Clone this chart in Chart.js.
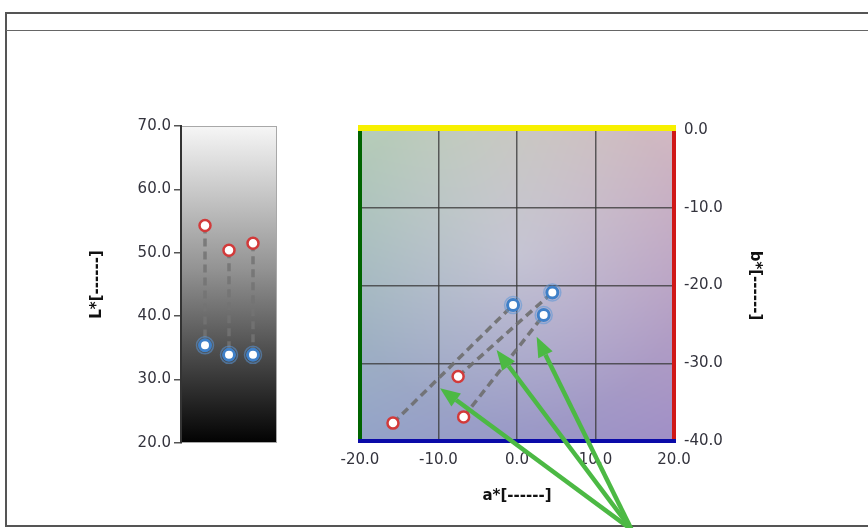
<!DOCTYPE html>
<html>
<head>
<meta charset="utf-8">
<script src="https://cdn.jsdelivr.net/npm/chart.js@4"></script>
<style>
  body { margin: 0; background: #fff; width: 868px; height: 528px; overflow: hidden; position: relative; }
  .frame { position: absolute; left: 5px; top: 12px; width: 880px; height: 511px; border: 2px solid #555; border-right: none; }
  .bar { position: absolute; left: 6px; top: 30px; width: 870px; height: 1px; background: #666; }
  canvas { position: absolute; left: 0; top: 0; }
</style>
</head>
<body>
<div class="frame"></div>
<div class="bar"></div>
<canvas id="chartL" width="868" height="528"></canvas>
<canvas id="chartAB" width="868" height="528"></canvas>
<script>
// L* chart: three samples, before (red) and after (blue)
const samplePos = [1, 2, 3];
const lBefore = [54.3, 50.4, 51.5];
const lAfter = [35.4, 33.9, 33.9];
const lTicks = [20, 30, 40, 50, 60, 70];

// a*b* chart
const aBefore = [-15.8, -7.5, -6.8];
const bBefore = [-37.7, -31.7, -36.9];
const aAfter = [-0.5, 4.5, 3.4];
const bAfter = [-22.5, -20.9, -23.8];
const aTicks = [-20, -10, 0, 10, 20];
const bTicks = [0, -10, -20, -30, -40];

// green annotation arrows (a*, b*), tips and common tail
const arrowTipA = [-9.8, -2.6, 2.5];
const arrowTipB = [-33.2, -28.3, -26.6];
const arrowTail = [14.6, -51.4];

const tickFont = { family: "DejaVu Sans", size: 15 };
const titleFont = { family: "DejaVu Sans", size: 15, weight: "bold" };
const tickColor = "#33333d";

const RED = "#d23a3a";
const BLUE = "#3f80c8";

function pts(xs, ys) {
  return xs.map((x, i) => ({ x: x, y: ys[i] }));
}

function pairLines(xs1, ys1, xs2, ys2, color) {
  return xs1.map((x, i) => ({
    type: "scatter",
    data: [{ x: x, y: ys1[i] }, { x: xs2[i], y: ys2[i] }],
    showLine: true,
    borderColor: color,
    borderWidth: 3.5,
    borderDash: [8, 5],
    pointRadius: 0,
    order: 10,
  }));
}

function markerSets(xs1, ys1, xs2, ys2) {
  return [
    { data: pts(xs1, ys1), pointRadius: 5.5, pointBorderWidth: 2.5, order: 1,
      pointBackgroundColor: "#fff", pointBorderColor: RED },
    { data: pts(xs2, ys2), pointRadius: 8.5, pointBorderWidth: 1.5, order: 2,
      pointBackgroundColor: "rgba(0,0,0,0)", pointBorderColor: "rgba(90,150,215,0.55)" },
    { data: pts(xs2, ys2), pointRadius: 5.5, pointBorderWidth: 3, order: 1,
      pointBackgroundColor: "#fff", pointBorderColor: BLUE },
  ];
}

// ---------- L* chart ----------
const lightPlugin = {
  id: "lightBg",
  beforeDraw(chart) {
    const { ctx, chartArea: a } = chart;
    const g = ctx.createLinearGradient(0, a.top, 0, a.bottom);
    g.addColorStop(0, "#f6f6f6");
    g.addColorStop(0.45, "#939393");
    g.addColorStop(1, "#020202");
    ctx.save();
    ctx.fillStyle = g;
    ctx.fillRect(a.left, a.top, a.right - a.left, a.bottom - a.top);
    ctx.strokeStyle = "#a8a8a8";
    ctx.lineWidth = 1;
    ctx.strokeRect(a.left + 0.5, a.top + 0.5, a.right - a.left - 1, a.bottom - a.top - 1);
    ctx.restore();
  },
};

new Chart(document.getElementById("chartL"), {
  type: "scatter",
  data: {
    datasets: [
      ...pairLines(samplePos, lBefore, samplePos, lAfter, "rgba(115,115,115,0.85)"),
      ...markerSets(samplePos, lBefore, samplePos, lAfter),
    ],
  },
  options: {
    responsive: false,
    animation: false,
    events: [],
    layout: { padding: { left: 85, right: 591, top: 126, bottom: 85 } },
    plugins: { legend: { display: false }, tooltip: { enabled: false } },
    scales: {
      x: { type: "linear", min: 0, max: 4, display: false },
      y: {
        type: "linear", position: "left", min: 20, max: 70,
        afterFit: (s) => { s.width = 96; },
        afterBuildTicks: (s) => { s.ticks = lTicks.map((v) => ({ value: v })); },
        ticks: { font: tickFont, color: tickColor, padding: 3, callback: (v) => v.toFixed(1) },
        grid: { drawOnChartArea: false, tickLength: 7, color: "#555", lineWidth: 1.5 },
        border: { color: "#333", width: 2 },
        title: { display: true, text: "L*[------]", font: titleFont, color: "#111", padding: 3 },
      },
    },
  },
  plugins: [lightPlugin],
});

// ---------- a*b* chart ----------
function corner(c) {
  return [parseInt(c.slice(1, 3), 16), parseInt(c.slice(3, 5), 16), parseInt(c.slice(5, 7), 16)];
}
const cTL = corner("#b5cdb8"), cTR = corner("#d2b8c2");
const cBL = corner("#93a3c8"), cBR = corner("#a08fc6");

const abPlugin = {
  id: "abBg",
  beforeDraw(chart) {
    const { ctx, chartArea: a } = chart;
    const w = Math.round(a.right - a.left), h = Math.round(a.bottom - a.top);
    const off = document.createElement("canvas");
    off.width = w; off.height = h;
    const octx = off.getContext("2d");
    const img = octx.createImageData(w, h);
    for (let j = 0; j < h; j++) {
      const v = j / (h - 1);
      for (let i = 0; i < w; i++) {
        const u = i / (w - 1);
        const k = (j * w + i) * 4;
        for (let c = 0; c < 3; c++) {
          const top = cTL[c] * (1 - u) + cTR[c] * u;
          const bot = cBL[c] * (1 - u) + cBR[c] * u;
          let val = top * (1 - v) + bot * v;
          // lighter in the centre
          const d = Math.hypot(u - 0.5, v - 0.4);
          val += Math.max(0, 18 * (1 - d * 1.8));
          img.data[k + c] = Math.min(255, val);
        }
        img.data[k + 3] = 255;
      }
    }
    octx.putImageData(img, 0, 0);
    ctx.drawImage(off, a.left, a.top);
  },
  beforeDatasetsDraw(chart) {
    const { ctx, chartArea: a } = chart;
    ctx.save();
    ctx.lineCap = "butt";
    const edge = (color, w, x1, y1, x2, y2) => {
      ctx.strokeStyle = color; ctx.lineWidth = w;
      ctx.beginPath(); ctx.moveTo(x1, y1); ctx.lineTo(x2, y2); ctx.stroke();
    };
    edge("#006400", 4, a.left, a.top, a.left, a.bottom);
    edge("#d01818", 4, a.right, a.top, a.right, a.bottom);
    edge("#f7f000", 6, a.left - 2, a.top - 2, a.right + 2, a.top - 2);
    edge("#0a0aa8", 4, a.left - 2, a.bottom, a.right + 2, a.bottom);
    ctx.restore();
  },
  afterDraw(chart) {
    const { ctx } = chart;
    const sx = chart.scales.x, sy = chart.scales.y;
    const tx = sx.getPixelForValue(arrowTail[0]);
    const ty = sy.getPixelForValue(arrowTail[1]);
    ctx.save();
    ctx.strokeStyle = "#4cb944";
    ctx.fillStyle = "#4cb944";
    ctx.lineWidth = 4.5;
    arrowTipA.forEach((av, i) => {
      const hx = sx.getPixelForValue(av);
      const hy = sy.getPixelForValue(arrowTipB[i]);
      const ang = Math.atan2(hy - ty, hx - tx);
      const len = 20, half = 8;
      const bx = hx - Math.cos(ang) * len, by = hy - Math.sin(ang) * len;
      ctx.beginPath(); ctx.moveTo(tx, ty); ctx.lineTo(bx, by); ctx.stroke();
      ctx.beginPath();
      ctx.moveTo(hx, hy);
      ctx.lineTo(bx + Math.sin(ang) * half, by - Math.cos(ang) * half);
      ctx.lineTo(bx - Math.sin(ang) * half, by + Math.cos(ang) * half);
      ctx.closePath(); ctx.fill();
    });
    ctx.restore();
  },
};

new Chart(document.getElementById("chartAB"), {
  type: "scatter",
  data: {
    datasets: [
      ...pairLines(aBefore, bBefore, aAfter, bAfter, "rgba(110,110,110,0.9)"),
      ...markerSets(aBefore, bBefore, aAfter, bAfter),
    ],
  },
  options: {
    responsive: false,
    animation: false,
    events: [],
    layout: { padding: { left: 360, right: 100, top: 130, bottom: 17 } },
    plugins: { legend: { display: false }, tooltip: { enabled: false } },
    scales: {
      x: {
        type: "linear", position: "bottom", min: -20, max: 20,
        afterFit: (s) => { s.height = 70; },
        afterBuildTicks: (s) => { s.ticks = aTicks.map((v) => ({ value: v })); },
        ticks: { font: tickFont, color: tickColor, padding: 10, maxRotation: 0, callback: (v) => v.toFixed(1) },
        grid: { drawTicks: false, color: "rgba(60,60,60,0.8)", lineWidth: 1.5 },
        border: { display: false },
        title: { display: true, text: "a*[------]", font: titleFont, color: "#111", padding: 6 },
      },
      y: {
        type: "linear", position: "right", min: -40, max: 0,
        afterFit: (s) => { s.width = 94; },
        afterBuildTicks: (s) => { s.ticks = bTicks.map((v) => ({ value: v })); },
        ticks: { font: tickFont, color: tickColor, padding: 10, callback: (v) => v.toFixed(1) },
        grid: { drawTicks: false, color: "rgba(60,60,60,0.8)", lineWidth: 1.5 },
        border: { display: false },
        title: { display: true, text: "b*[------]", font: titleFont, color: "#111", padding: 4 },
      },
    },
  },
  plugins: [abPlugin],
});
</script>
</body>
</html>
